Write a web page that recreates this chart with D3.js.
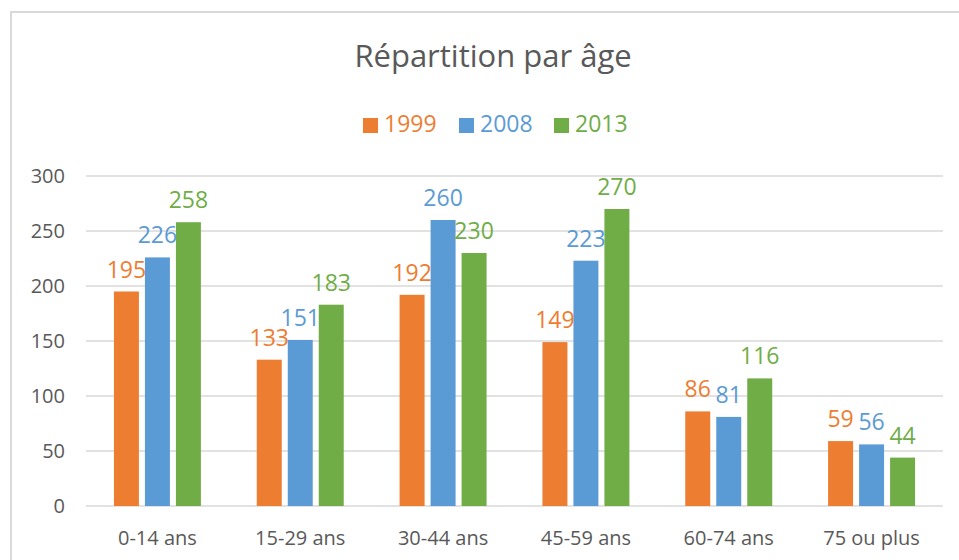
<!DOCTYPE html>
<html>
<head>
<meta charset="utf-8">
<title>Répartition par âge</title>
<script src="https://d3js.org/d3.v7.min.js"></script>
<style>
  body { margin: 0; background: #fff; }
  svg text { font-family: "Open Sans", sans-serif; }
</style>
</head>
<body>
<script>
// data
var categories = ["0-14 ans", "15-29 ans", "30-44 ans", "45-59 ans", "60-74 ans", "75 ou plus"];
var years = ["1999", "2008", "2013"];
var values1999 = [195, 133, 192, 149, 86, 59];
var values2008 = [226, 151, 260, 223, 81, 56];
var values2013 = [258, 183, 230, 270, 116, 44];
var yTicks = [0, 50, 100, 150, 200, 250, 300];

var colors = ["#ED7D31", "#5B9BD5", "#70AD47"];
var series = [values1999, values2008, values2013];

var W = 959, H = 560;
var plot = {left: 86, right: 943, top: 176, bottom: 506};

var svg = d3.select("body").append("svg")
    .attr("width", W)
    .attr("height", H);

svg.append("rect").attr("width", W).attr("height", H).attr("fill", "#fff");

// chart frame (runs off the right and bottom of the crop)
svg.append("rect")
    .attr("x", 11).attr("y", 12)
    .attr("width", 1000).attr("height", 600)
    .attr("fill", "none")
    .attr("stroke", "#d9d9d9")
    .attr("stroke-width", 2);

var x0 = d3.scaleBand()
    .domain(categories)
    .range([plot.left, plot.right])
    .paddingInner(0.349)
    .paddingOuter(0.1745);

var x1 = d3.scaleBand()
    .domain(years)
    .range([0, x0.bandwidth()])
    .paddingInner(0.194)
    .paddingOuter(0.097);

var y = d3.scaleLinear()
    .domain([0, 300])
    .range([plot.bottom, plot.top]);

// gridlines
svg.append("g")
    .selectAll("line")
    .data(yTicks)
    .join("line")
    .attr("x1", plot.left)
    .attr("x2", plot.right)
    .attr("y1", d => y(d))
    .attr("y2", d => y(d))
    .attr("stroke", "#d9d9d9")
    .attr("stroke-width", 1.3);

// y tick labels
svg.append("g")
    .selectAll("text")
    .data(yTicks)
    .join("text")
    .attr("x", 65)
    .attr("y", d => y(d))
    .attr("dy", "0.36em")
    .attr("text-anchor", "end")
    .attr("fill", "#595959")
    .style("font-size", "20px")
    .text(d => d);

// category labels
svg.append("g")
    .selectAll("text")
    .data(categories)
    .join("text")
    .attr("x", d => x0(d) + x0.bandwidth() / 2)
    .attr("y", 545)
    .attr("text-anchor", "middle")
    .attr("fill", "#595959")
    .style("font-size", "20px")
    .text(d => d);

// bars + labels
years.forEach(function(yr, i) {
    var g = svg.append("g");
    g.selectAll("rect")
        .data(series[i])
        .join("rect")
        .attr("x", (d, j) => x0(categories[j]) + x1(yr))
        .attr("y", d => y(d))
        .attr("width", x1.bandwidth())
        .attr("height", d => y(0) - y(d))
        .attr("fill", colors[i]);

    g.selectAll("text")
        .data(series[i])
        .join("text")
        .attr("x", (d, j) => x0(categories[j]) + x1(yr) + x1.bandwidth() / 2)
        .attr("y", d => y(d) - 14)
        .attr("text-anchor", "middle")
        .attr("fill", colors[i])
        .style("font-size", "23px")
        .text(d => d);
});

// title
svg.append("text")
    .attr("x", 493)
    .attr("y", 67)
    .attr("text-anchor", "middle")
    .attr("fill", "#595959")
    .style("font-size", "31px")
    .text("Répartition par âge");

// legend
var legendX = [363, 459, 554];
var legend = svg.append("g")
    .selectAll("g")
    .data(years)
    .join("g")
    .attr("transform", (d, i) => `translate(${legendX[i]},0)`);

legend.append("rect")
    .attr("x", 0)
    .attr("y", 118)
    .attr("width", 15)
    .attr("height", 15)
    .attr("fill", (d, i) => colors[i]);

legend.append("text")
    .attr("x", 21)
    .attr("y", 132)
    .attr("fill", (d, i) => colors[i])
    .style("font-size", "23px")
    .text(d => d);
</script>
</body>
</html>
